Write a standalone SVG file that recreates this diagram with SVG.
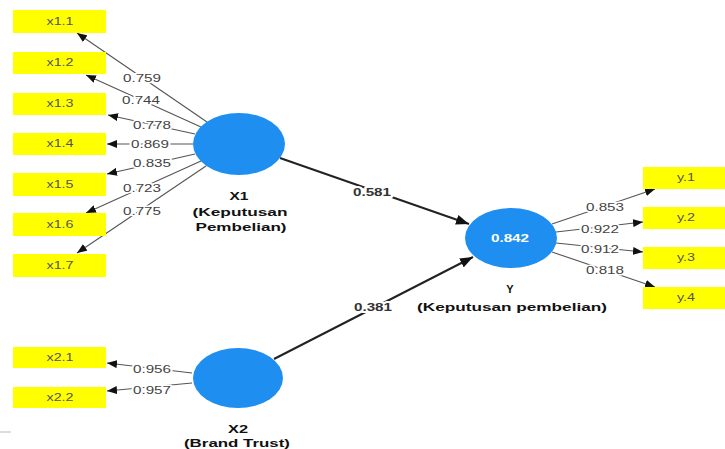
<svg xmlns="http://www.w3.org/2000/svg" width="725" height="449" viewBox="0 0 725 449">
<style>
.box{fill:#FFFF00}
.btxt{font-family:"Liberation Sans",Arial,sans-serif;font-size:10px;fill:#555;text-anchor:middle}
.ell{fill:#1E8FF0}
.nlab{font-family:"Liberation Sans",Arial,sans-serif;font-size:11px;font-weight:bold;fill:#111;text-anchor:middle}
.load{stroke:#555;stroke-width:1.1;fill:none;marker-end:url(#ah)}
.path{stroke:#222;stroke-width:2;fill:none;marker-end:url(#ahb)}
.num{font-family:"Liberation Sans",Arial,sans-serif;font-size:11px;fill:#444;text-anchor:middle;stroke:#fff;stroke-width:3;paint-order:stroke;stroke-linejoin:round}
.pnum{font-family:"Liberation Sans",Arial,sans-serif;font-size:11px;font-weight:bold;fill:#333;text-anchor:middle;stroke:#fff;stroke-width:4;paint-order:stroke;stroke-linejoin:round}
</style>
<defs>
<marker id="ah" markerUnits="userSpaceOnUse" markerWidth="11" markerHeight="8" refX="10" refY="4" orient="auto"><path d="M0,0 L10,4 L0,8 Z" fill="#111"/></marker>
<marker id="ahb" markerUnits="userSpaceOnUse" markerWidth="14" markerHeight="10" refX="13" refY="5" orient="auto"><path d="M0,0 L13,5 L0,10 Z" fill="#111"/></marker>
</defs>
<rect width="725" height="449" fill="#fff"/>
<line x1="0" y1="432" x2="11" y2="432" stroke="#bbb" stroke-width="1"/>

<g id="connectors">
<line class="load" x1="207" y1="122" x2="77" y2="33"/>
<line class="load" x1="201" y1="127" x2="86" y2="75"/>
<line class="load" x1="195" y1="134" x2="108" y2="115"/>
<line class="load" x1="193" y1="144" x2="107" y2="144"/>
<line class="load" x1="195" y1="154" x2="107" y2="174"/>
<line class="load" x1="201" y1="161" x2="86" y2="213"/>
<line class="load" x1="206" y1="166" x2="77" y2="253"/>
<line class="load" x1="192" y1="373" x2="107" y2="363"/>
<line class="load" x1="192" y1="383" x2="107" y2="391"/>
<line class="load" x1="552" y1="224" x2="655" y2="189"/>
<line class="load" x1="556" y1="232" x2="643" y2="222"/>
<line class="load" x1="556" y1="243" x2="643" y2="252"/>
<line class="load" x1="552" y1="252" x2="655" y2="287"/>
<line class="path" x1="280" y1="158" x2="469" y2="224"/>
<line class="path" x1="274" y1="359" x2="473" y2="257"/>
<text class="num" x="142" y="82" textLength="38" lengthAdjust="spacingAndGlyphs">0.759</text>
<text class="num" x="141" y="104" textLength="38" lengthAdjust="spacingAndGlyphs">0.744</text>
<text class="num" x="152" y="129" textLength="38" lengthAdjust="spacingAndGlyphs">0.778</text>
<text class="num" x="150" y="148" textLength="38" lengthAdjust="spacingAndGlyphs">0.869</text>
<text class="num" x="152" y="167" textLength="38" lengthAdjust="spacingAndGlyphs">0.835</text>
<text class="num" x="142" y="192" textLength="38" lengthAdjust="spacingAndGlyphs">0.723</text>
<text class="num" x="142" y="215" textLength="38" lengthAdjust="spacingAndGlyphs">0.775</text>
<text class="num" x="152" y="373" textLength="38" lengthAdjust="spacingAndGlyphs">0.956</text>
<text class="num" x="152" y="394" textLength="38" lengthAdjust="spacingAndGlyphs">0.957</text>
<text class="num" x="605" y="211" textLength="38" lengthAdjust="spacingAndGlyphs">0.853</text>
<text class="num" x="600" y="233" textLength="38" lengthAdjust="spacingAndGlyphs">0.922</text>
<text class="num" x="600" y="253" textLength="38" lengthAdjust="spacingAndGlyphs">0.912</text>
<text class="num" x="605" y="274" textLength="38" lengthAdjust="spacingAndGlyphs">0.818</text>
<text class="pnum" x="372" y="196" textLength="38" lengthAdjust="spacingAndGlyphs">0.581</text>
<text class="pnum" x="373" y="311" textLength="38" lengthAdjust="spacingAndGlyphs">0.381</text>
</g>

<g id="x1_1"><rect class="box" x="13" y="10" width="93" height="23"/><text class="btxt" x="60" y="25" textLength="27" lengthAdjust="spacingAndGlyphs">x1.1</text></g>
<g id="x1_2"><rect class="box" x="13" y="52" width="93" height="22"/><text class="btxt" x="60" y="66" textLength="27" lengthAdjust="spacingAndGlyphs">x1.2</text></g>
<g id="x1_3"><rect class="box" x="13" y="93" width="93" height="22"/><text class="btxt" x="60" y="107" textLength="27" lengthAdjust="spacingAndGlyphs">x1.3</text></g>
<g id="x1_4"><rect class="box" x="13" y="133" width="93" height="22"/><text class="btxt" x="60" y="147" textLength="27" lengthAdjust="spacingAndGlyphs">x1.4</text></g>
<g id="x1_5"><rect class="box" x="13" y="173" width="93" height="23"/><text class="btxt" x="60" y="188" textLength="27" lengthAdjust="spacingAndGlyphs">x1.5</text></g>
<g id="x1_6"><rect class="box" x="13" y="213" width="93" height="23"/><text class="btxt" x="60" y="228" textLength="27" lengthAdjust="spacingAndGlyphs">x1.6</text></g>
<g id="x1_7"><rect class="box" x="13" y="254" width="93" height="23"/><text class="btxt" x="60" y="269" textLength="27" lengthAdjust="spacingAndGlyphs">x1.7</text></g>
<g id="x2_1"><rect class="box" x="13" y="347" width="93" height="21"/><text class="btxt" x="60" y="361" textLength="27" lengthAdjust="spacingAndGlyphs">x2.1</text></g>
<g id="x2_2"><rect class="box" x="13" y="387" width="93" height="21"/><text class="btxt" x="60" y="401" textLength="27" lengthAdjust="spacingAndGlyphs">x2.2</text></g>
<g id="y_1"><rect class="box" x="643" y="167" width="82" height="22"/><text class="btxt" x="686" y="181" textLength="18" lengthAdjust="spacingAndGlyphs">y.1</text></g>
<g id="y_2"><rect class="box" x="643" y="207" width="82" height="22"/><text class="btxt" x="686" y="221" textLength="18" lengthAdjust="spacingAndGlyphs">y.2</text></g>
<g id="y_3"><rect class="box" x="643" y="247" width="82" height="22"/><text class="btxt" x="686" y="261" textLength="18" lengthAdjust="spacingAndGlyphs">y.3</text></g>
<g id="y_4"><rect class="box" x="643" y="287" width="82" height="22"/><text class="btxt" x="686" y="301" textLength="18" lengthAdjust="spacingAndGlyphs">y.4</text></g>

<g id="X1">
<ellipse class="ell" cx="239" cy="144" rx="46" ry="31"/>
<text class="nlab" x="239" y="200" textLength="19" lengthAdjust="spacingAndGlyphs">X1</text>
<text class="nlab" x="240" y="216" textLength="95" lengthAdjust="spacingAndGlyphs">(Keputusan</text>
<text class="nlab" x="241" y="231" textLength="91" lengthAdjust="spacingAndGlyphs">Pembelian)</text>
</g>
<g id="X2">
<ellipse class="ell" cx="238" cy="378" rx="45" ry="30"/>
<text class="nlab" x="238" y="433" textLength="20" lengthAdjust="spacingAndGlyphs">X2</text>
<text class="nlab" x="237" y="447" textLength="106" lengthAdjust="spacingAndGlyphs">(Brand Trust)</text>
</g>
<g id="Y">
<ellipse class="ell" cx="511" cy="238" rx="46" ry="30"/>
<text class="nlab" x="510" y="242" style="fill:#fff" textLength="38" lengthAdjust="spacingAndGlyphs">0.842</text>
<text class="nlab" x="510" y="293">Y</text>
<text class="nlab" x="512" y="311" textLength="190" lengthAdjust="spacingAndGlyphs">(Keputusan pembelian)</text>
</g>
</svg>
